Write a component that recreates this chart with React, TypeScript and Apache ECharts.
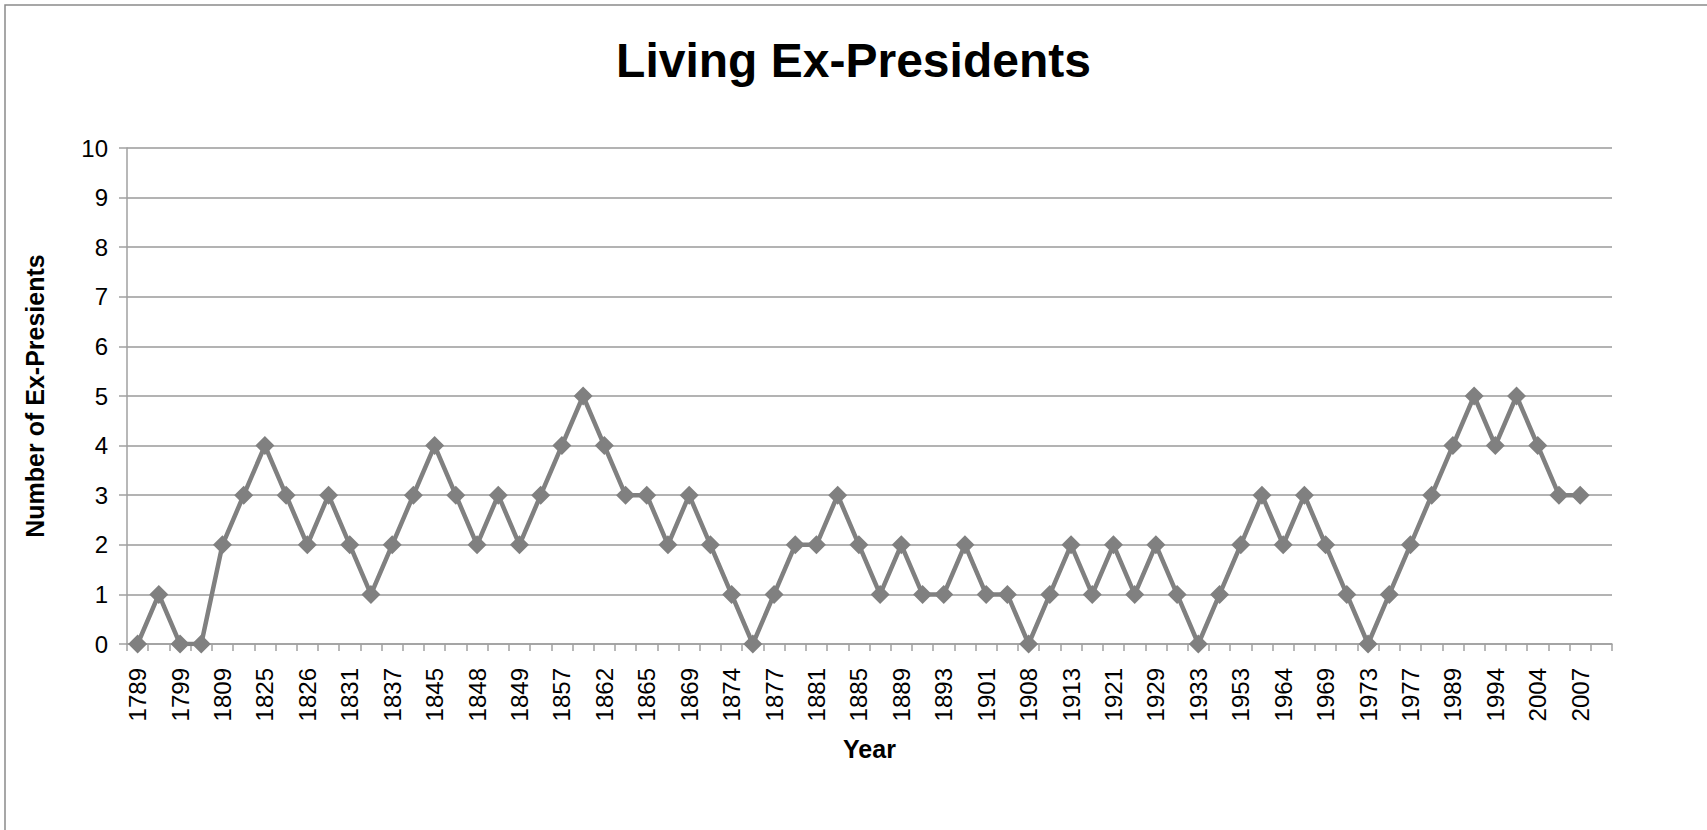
import React, { useEffect, useRef } from "react";
import * as echarts from "echarts";

// Year at each change in the count (every other one is labelled on the axis);
// the trailing empty slot leaves a gap after the last point
const years = [
  "1789", "1797", "1799", "1801", "1809", "1817", "1825", "1826", "1826", "1829",
  "1831", "1836", "1837", "1841", "1845", "1845", "1848", "1849", "1849", "1853",
  "1857", "1861", "1862", "1862", "1865", "1868", "1869", "1869", "1874", "1875",
  "1877", "1881", "1881", "1885", "1885", "1886", "1889", "1892", "1893", "1897",
  "1901", "1901", "1908", "1909", "1913", "1913", "1921", "1924", "1929", "1931",
  "1933", "1945", "1953", "1953", "1964", "1964", "1969", "1969", "1973", "1973",
  "1977", "1981", "1989", "1993", "1994", "2001", "2004", "2006", "2007", "",
];

// Number of living former presidents after each change
const livingExPresidents = [
  0, 1, 0, 0, 2, 3, 4, 3, 2, 3,
  2, 1, 2, 3, 4, 3, 2, 3, 2, 3,
  4, 5, 4, 3, 3, 2, 3, 2, 1, 0,
  1, 2, 2, 3, 2, 1, 2, 1, 1, 2,
  1, 1, 0, 1, 2, 1, 2, 1, 2, 1,
  0, 1, 2, 3, 2, 3, 2, 1, 0, 1,
  2, 3, 4, 5, 4, 5, 4, 3, 3,
];

const FONT = "'Liberation Sans', Arial, sans-serif";

export default function App() {
  const ref = useRef<HTMLDivElement>(null);

  useEffect(() => {
    document.body.style.margin = "0";
    if (!ref.current) return;
    const chart = echarts.init(ref.current, undefined, { renderer: "svg" });
    chart.setOption({
      animation: false,
      backgroundColor: "#ffffff",
      title: {
        text: "Living Ex-Presidents",
        left: "center",
        top: 31,
        itemGap: 0,
        textStyle: {
          fontFamily: FONT,
          fontSize: 48,
          fontWeight: "bold",
          color: "#000000",
        },
      },
      graphic: [
        {
          type: "rect",
          shape: { x: 5, y: 5, width: 1800, height: 1000 },
          style: { fill: "none", stroke: "#8a8a8a", lineWidth: 1.5 },
          silent: true,
        },
      ],
      grid: { left: 127, right: 95, top: 148, bottom: 186 },
      xAxis: {
        type: "category",
        data: years,
        boundaryGap: true,
        name: "Year",
        nameLocation: "middle",
        nameGap: 92,
        nameTextStyle: {
          fontFamily: FONT,
          fontSize: 25,
          fontWeight: "bold",
          color: "#000000",
        },
        axisLine: { lineStyle: { color: "#a0a0a0", width: 1.5 } },
        axisTick: {
          show: true,
          interval: 0,
          alignWithLabel: false,
          length: 7,
          lineStyle: { color: "#a0a0a0", width: 1.5 },
        },
        axisLabel: {
          interval: 1,
          rotate: 90,
          margin: 24,
          fontFamily: FONT,
          fontSize: 24,
          color: "#000000",
        },
        splitLine: { show: false },
      },
      yAxis: {
        type: "value",
        min: 0,
        max: 10,
        interval: 1,
        name: "Number of Ex-Presients",
        nameLocation: "middle",
        nameGap: 80,
        nameTextStyle: {
          fontFamily: FONT,
          fontSize: 25,
          fontWeight: "bold",
          color: "#000000",
        },
        axisLine: { show: true, lineStyle: { color: "#a0a0a0", width: 1.5 } },
        axisTick: { show: true, length: 8, lineStyle: { color: "#a0a0a0", width: 1.5 } },
        axisLabel: {
          margin: 19,
          fontFamily: FONT,
          fontSize: 24,
          color: "#000000",
        },
        splitLine: { show: true, lineStyle: { color: "#9a9a9a", width: 1.5 } },
      },
      series: [
        {
          type: "line",
          data: livingExPresidents,
          symbol: "diamond",
          symbolSize: 19,
          showAllSymbol: true,
          lineStyle: { color: "#808080", width: 4.5 },
          itemStyle: { color: "#808080" },
        },
      ],
    });
    return () => chart.dispose();
  }, []);

  return <div ref={ref} style={{ width: 1707, height: 830 }} />;
}
